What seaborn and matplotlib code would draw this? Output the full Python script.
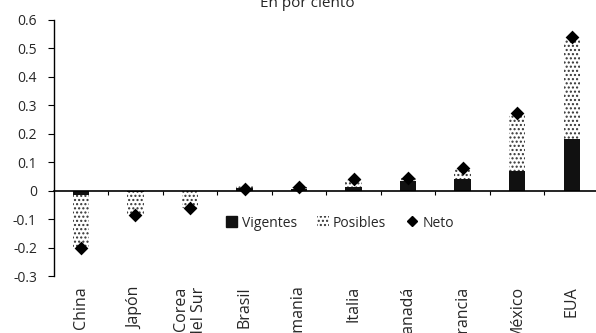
import numpy as np
import pandas as pd
import seaborn as sns
import matplotlib.pyplot as plt
from matplotlib.patches import Patch
from matplotlib.lines import Line2D
from matplotlib import transforms

paises = ['China', 'Japón', 'Corea\ndel Sur', 'Brasil', 'Alemania',
          'Italia', 'Canadá', 'Francia', 'México', 'EUA']
vigentes = [-0.015, -0.005, 0.0, 0.01, 0.005, 0.012, 0.035, 0.04, 0.07, 0.183]
posibles = [-0.185, -0.08, -0.06, 0.01, 0.008, 0.025, 0.01, 0.035, 0.2, 0.347]
neto = [-0.2, -0.087, -0.062, 0.005, 0.012, 0.042, 0.045, 0.08, 0.272, 0.54]

df = pd.DataFrame({'pais': paises, 'vigentes': vigentes,
                   'posibles': posibles, 'neto': neto})
df['total'] = df.vigentes + df.posibles

sns.set_style('white')
plt.rcParams['font.family'] = ['Open Sans', 'DejaVu Sans']
plt.rcParams['hatch.linewidth'] = 1.0

fig = plt.figure(figsize=(5.96, 3.33), dpi=100)
ax = fig.add_axes([0.09, 0.171, 0.915, 0.769])

# total bar with dotted hatch, vigentes drawn over it
sns.barplot(data=df, x='pais', y='total', color='white', width=0.3,
            edgecolor='#333333', linewidth=0, hatch='....', ax=ax)
sns.barplot(data=df, x='pais', y='vigentes', color='#111111', width=0.3,
            linewidth=0, ax=ax)
sns.stripplot(data=df, x='pais', y='neto', jitter=False, marker='D',
              color='black', size=7, ax=ax, zorder=5)

ax.set_xlim(-0.5, len(paises) - 0.5)
ax.set_ylim(-0.3, 0.6)
ax.set_yticks(np.arange(-0.3, 0.61, 0.1))
ax.set_yticklabels(['-0.3', '-0.2', '-0.1', '0', '0.1', '0.2', '0.3',
                    '0.4', '0.5', '0.6'], fontsize=10)
ax.set_xlabel('')
ax.set_ylabel('')

for s in ['top', 'right']:
    ax.spines[s].set_visible(False)
ax.spines['bottom'].set_position(('data', 0))
ax.spines['bottom'].set_linewidth(1.2)
ax.spines['left'].set_linewidth(1.0)
ax.spines['bottom'].set_color('black')
ax.spines['left'].set_color('black')

ax.set_xticks(np.arange(len(paises)) + 0.5)
ax.set_xticklabels([])
ax.tick_params(axis='x', direction='out', length=3, width=0.8, color='black',
               bottom=True)
ax.tick_params(axis='y', direction='out', length=4, width=0.8, color='black',
               pad=8, left=True)

trans = transforms.blended_transform_factory(ax.transData, ax.transAxes)
for i, p in enumerate(paises):
    ax.text(i, -0.04, p, rotation=90, ha='center', va='top',
            multialignment='right', fontsize=11.5, transform=trans)

handles = [Patch(facecolor='#111111', edgecolor='#111111', label='Vigentes'),
           Patch(facecolor='white', edgecolor='#333333', hatch='....',
                 linewidth=0, label='Posibles'),
           Line2D([], [], marker='D', color='black', linestyle='none',
                  markersize=5, label='Neto')]
ax.legend(handles=handles, ncol=3, frameon=False, fontsize=10,
          loc='center', bbox_to_anchor=(0.525, 0.207),
          handlelength=0.8, handleheight=0.8, handletextpad=0.3,
          columnspacing=1.5)

fig.text(0.515, 0.979, 'En por ciento', ha='center', va='baseline', fontsize=11)

fig.savefig('out.png', dpi=100)
